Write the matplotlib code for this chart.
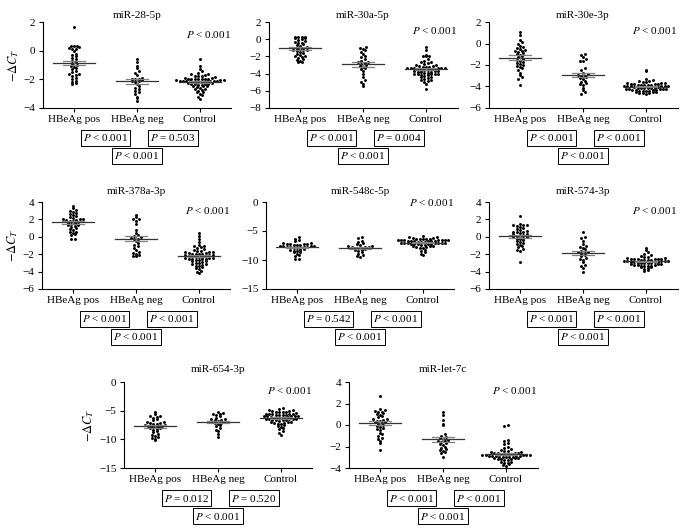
import matplotlib
matplotlib.use("Agg")
import matplotlib.pyplot as plt
import numpy as np

plt.rcParams['font.family'] = ['Liberation Serif', 'DejaVu Serif']
plt.rcParams['mathtext.fontset'] = 'stix'
plt.rcParams['font.size'] = 8

groups = ["HBeAg pos", "HBeAg neg", "Control"]
titles = ["miR-28-5p", "miR-30a-5p", "miR-30e-3p", "miR-378a-3p",
          "miR-548c-5p", "miR-574-3p", "miR-654-3p", "miR-let-7c"]

# -dCt values, per panel: HBeAg pos, HBeAg neg, Control
pos1 = [1.65, 0.35, 0.3, 0.3, 0.25, 0.2, 0.15, 0.1, 0.0, -0.2, -0.3, -0.4, -0.5, -0.6, -0.7, -0.8, -0.9,
        -1.0, -1.1, -1.15, -1.2, -1.3, -1.4, -1.5, -1.6, -1.65, -1.7, -1.8, -1.9, -2.0, -2.1, -2.2, -2.25, -2.3]
neg1 = [-0.6, -0.8, -1.05, -1.2, -1.4, -1.55, -1.7, -1.9, -1.95, -2.0, -2.0, -2.05, -2.1, -2.15, -2.2,
        -2.3, -2.5, -2.6, -2.7, -2.8, -2.9, -3.0, -3.2, -3.3, -3.5]
ctrl1 = [-0.55, -1.1, -1.3, -1.45, -1.55, -1.6, -1.65, -1.7, -1.75, -1.8, -1.8, -1.85, -1.9, -1.9, -1.95,
         -1.95, -2.0, -2.0, -2.0, -2.0, -2.0, -2.05, -2.05, -2.05, -2.1, -2.1, -2.1, -2.1, -2.1, -2.15, -2.15,
         -2.15, -2.2, -2.2, -2.2, -2.2, -2.25, -2.25, -2.3, -2.3, -2.3, -2.35, -2.4, -2.4, -2.45, -2.5, -2.5,
         -2.55, -2.6, -2.65, -2.7, -2.75, -2.8, -2.85, -2.9, -3.0, -3.1, -3.2, -3.4]

pos2 = [0.3, 0.25, 0.2, 0.2, 0.15, 0.1, 0.0, -0.1, -0.2, -0.3, -0.4, -0.5, -0.6, -0.7, -0.8, -0.9, -1.0,
        -1.0, -1.1, -1.1, -1.2, -1.2, -1.3, -1.4, -1.5, -1.6, -1.7, -1.8, -1.9, -2.0, -2.1, -2.2, -2.3,
        -2.4, -2.5, -2.6, -2.7]
neg2 = [-0.9, -1.0, -1.1, -1.3, -1.5, -1.7, -1.9, -2.1, -2.3, -2.5, -2.6, -2.7, -2.8, -2.9, -3.0, -3.1,
        -3.2, -3.3, -3.5, -3.7, -4.1, -4.4, -4.8, -5.0, -5.2, -5.5]
ctrl2 = [-0.9, -1.2, -1.8, -1.9, -1.9, -2.0, -2.3, -2.5, -2.6, -2.7, -2.8, -2.9, -3.0, -3.0, -3.1, -3.1,
         -3.2, -3.2, -3.2, -3.3, -3.3, -3.3, -3.4, -3.4, -3.4, -3.5, -3.5, -3.5, -3.6, -3.6, -3.6, -3.7,
         -3.7, -3.7, -3.8, -3.8, -3.8, -3.9, -3.9, -4.0, -4.0, -4.0, -4.1, -4.1, -4.2, -4.2, -4.3, -4.4,
         -4.4, -4.5, -4.6, -4.7, -4.8, -4.9, -5.0, -5.2, -5.8]

pos3 = [1.1, 0.8, 0.3, 0.1, 0.0, -0.2, -0.3, -0.4, -0.5, -0.6, -0.7, -0.7, -0.8, -0.9, -1.0, -1.1, -1.2,
        -1.3, -1.4, -1.5, -1.6, -1.7, -1.8, -1.9, -2.0, -2.1, -2.2, -2.3, -2.5, -2.7, -2.9, -3.1, -3.3, -3.9]
neg3 = [-1.0, -1.1, -1.3, -1.4, -1.6, -1.6, -2.3, -2.5, -2.7, -2.8, -2.9, -3.0, -3.0, -3.1, -3.2, -3.3,
        -3.5, -3.6, -3.7, -3.8, -3.9, -4.1, -4.3, -4.5, -4.7]
ctrl3 = [-2.5, -2.6, -3.3, -3.4, -3.5, -3.5, -3.6, -3.6, -3.7, -3.7, -3.7, -3.8, -3.8, -3.8, -3.8, -3.9,
         -3.9, -3.9, -3.9, -3.9, -4.0, -4.0, -4.0, -4.0, -4.0, -4.0, -4.05, -4.05, -4.1, -4.1, -4.1, -4.1,
         -4.1, -4.15, -4.2, -4.2, -4.2, -4.2, -4.25, -4.3, -4.3, -4.3, -4.35, -4.4, -4.4, -4.4, -4.45, -4.5,
         -4.5, -4.55, -4.6, -4.6, -4.65, -4.7]

pos4 = [3.5, 3.3, 3.1, 2.9, 2.7, 2.5, 2.4, 2.3, 2.2, 2.1, 2.0, 2.0, 1.9, 1.9, 1.8, 1.8, 1.7, 1.6, 1.5,
        1.4, 1.3, 1.2, 1.1, 1.0, 0.9, 0.8, 0.6, 0.5, 0.3, 0.2, 0.4, -0.2, -0.3, 2.6, 1.6, 3.0]
neg4 = [2.5, 2.3, 2.1, 2.0, 1.8, 1.5, 0.8, 0.4, 0.2, 0.1, 0.0, -0.1, -0.2, -0.3, -0.5, -0.7, -0.9, -1.1,
        -1.3, -1.5, -1.8, -1.9, -2.0, -2.1, -2.2, -2.2]
ctrl4 = [0.4, 0.1, -0.3, -0.6, -0.9, -1.0, -1.1, -1.2, -1.3, -1.4, -1.5, -1.6, -1.7, -1.8, -1.8, -1.9,
         -1.9, -2.0, -2.0, -2.0, -2.1, -2.1, -2.1, -2.2, -2.2, -2.2, -2.3, -2.3, -2.3, -2.4, -2.4, -2.5,
         -2.5, -2.6, -2.6, -2.7, -2.8, -2.8, -2.9, -3.0, -3.0, -3.1, -3.1, -3.2, -3.3, -3.4, -3.5, -3.6,
         -3.7, -3.9, -4.0, -4.2, -1.6, -2.0, -2.4, -2.7]

pos5 = [-6.1, -6.3, -6.6, -6.8, -7.0, -7.1, -7.2, -7.3, -7.3, -7.4, -7.4, -7.5, -7.5, -7.6, -7.6, -7.7,
        -7.7, -7.8, -7.8, -7.9, -8.0, -8.0, -8.1, -8.2, -8.3, -8.4, -8.5, -8.6, -8.7, -8.9, -9.1, -9.3,
        -9.8, -9.9, -7.4, -7.3]
neg5 = [-6.1, -6.2, -6.7, -6.9, -7.1, -7.3, -7.4, -7.5, -7.6, -7.7, -7.8, -7.8, -7.9, -8.0, -8.0, -8.1,
        -8.2, -8.3, -8.5, -8.7, -8.9, -9.1, -9.3, -9.5]
ctrl5 = [-5.8, -6.0, -6.1, -6.2, -6.2, -6.3, -6.3, -6.3, -6.4, -6.4, -6.5, -6.5, -6.5, -6.6, -6.6, -6.6,
         -6.7, -6.7, -6.7, -6.8, -6.8, -6.8, -6.9, -6.9, -6.9, -7.0, -7.0, -7.0, -7.1, -7.1, -7.1, -7.2,
         -7.2, -7.2, -7.3, -7.3, -7.4, -7.4, -7.5, -7.5, -7.6, -7.7, -7.8, -7.9, -8.0, -8.2, -8.4, -8.6,
         -8.9, -9.1, -6.6, -7.0]

pos6 = [2.4, 1.5, 1.4, 1.3, 1.3, 1.2, 1.1, 1.0, 0.9, 0.8, 0.7, 0.6, 0.6, 0.5, 0.4, 0.3, 0.3, 0.2, 0.1,
        0.1, 0.0, 0.0, -0.1, -0.2, -0.3, -0.4, -0.5, -0.6, -0.7, -0.8, -0.9, -1.0, -1.2, -1.4, -1.5, -1.6, -2.9]
neg6 = [0.5, 0.0, -0.1, -0.5, -0.8, -1.0, -1.2, -1.3, -1.4, -1.6, -1.7, -1.8, -1.9, -2.0, -2.1, -2.2,
        -2.4, -2.5, -2.7, -2.9, -3.2, -3.4, -3.6, -4.0]
ctrl6 = [-1.3, -1.5, -1.8, -2.0, -2.1, -2.2, -2.3, -2.3, -2.4, -2.4, -2.5, -2.5, -2.6, -2.6, -2.6, -2.7,
         -2.7, -2.7, -2.7, -2.8, -2.8, -2.8, -2.8, -2.9, -2.9, -2.9, -2.9, -3.0, -3.0, -3.0, -3.0, -3.1,
         -3.1, -3.1, -3.2, -3.2, -3.2, -3.3, -3.3, -3.4, -3.4, -3.5, -3.5, -3.6, -3.7, -3.8, -3.9, -2.8,
         -3.0, -2.6]

pos7 = [-5.3, -5.6, -5.9, -6.1, -6.3, -6.5, -6.7, -6.9, -7.0, -7.1, -7.2, -7.3, -7.4, -7.5, -7.6, -7.7,
        -7.8, -7.9, -8.0, -8.1, -8.2, -8.4, -8.6, -8.8, -9.0, -9.2, -9.4, -9.6, -9.8, -10.0, -10.2, -7.5,
        -7.8, -6.0]
neg7 = [-5.2, -5.4, -5.6, -5.8, -6.0, -6.2, -6.4, -6.5, -6.6, -6.7, -6.8, -6.9, -7.0, -7.1, -7.2, -7.3,
        -7.5, -7.7, -8.0, -8.3, -8.6, -9.1, -9.6, -5.5]
ctrl7 = [-4.6, -4.7, -4.8, -4.9, -5.0, -5.1, -5.2, -5.3, -5.3, -5.4, -5.5, -5.5, -5.6, -5.6, -5.7, -5.7,
         -5.8, -5.8, -5.9, -5.9, -6.0, -6.0, -6.1, -6.1, -6.2, -6.2, -6.3, -6.3, -6.4, -6.4, -6.5, -6.5,
         -6.6, -6.6, -6.7, -6.7, -6.8, -6.9, -7.0, -7.0, -7.1, -7.2, -7.3, -7.4, -7.5, -7.6, -7.8, -8.0,
         -8.2, -8.5, -8.9, -9.3, -5.2, -6.0, -6.4, -5.6]

pos8 = [2.7, 1.5, 1.4, 1.3, 1.2, 1.1, 1.0, 0.9, 0.8, 0.7, 0.6, 0.5, 0.4, 0.3, 0.2, 0.1, 0.0, -0.1, -0.2,
        -0.3, -0.4, -0.5, -0.7, -0.8, -1.0, -1.2, -1.3, -1.5, -1.7, -2.3, 0.4, 0.6, 1.2, 0.3]
neg8 = [1.2, 0.9, 0.5, 0.1, 0.0, -0.8, -1.0, -1.1, -1.2, -1.3, -1.4, -1.5, -1.6, -1.7, -1.8, -1.9, -2.0,
        -2.1, -2.2, -2.3, -2.4, -2.5, -2.6, -3.0, -1.5]
ctrl8 = [0.0, -0.1, -1.4, -1.5, -1.7, -1.8, -2.0, -2.1, -2.2, -2.3, -2.4, -2.4, -2.5, -2.5, -2.6, -2.6,
         -2.6, -2.7, -2.7, -2.7, -2.7, -2.8, -2.8, -2.8, -2.8, -2.9, -2.9, -2.9, -2.9, -3.0, -3.0, -3.0,
         -3.0, -3.1, -3.1, -3.1, -3.2, -3.2, -3.2, -3.3, -3.3, -3.4, -3.4, -3.5, -3.5, -3.6, -3.7, -3.8,
         -2.8, -3.0, -2.6, -2.9]

data = [(pos1, neg1, ctrl1), (pos2, neg2, ctrl2), (pos3, neg3, ctrl3), (pos4, neg4, ctrl4),
        (pos5, neg5, ctrl5), (pos6, neg6, ctrl6), (pos7, neg7, ctrl7), (pos8, neg8, ctrl8)]

yticks = [[-4, -2, 0, 2], [-8, -6, -4, -2, 0, 2], [-6, -4, -2, 0, 2], [-6, -4, -2, 0, 2, 4],
          [-15, -10, -5, 0], [-6, -4, -2, 0, 2, 4], [-15, -10, -5, 0], [-4, -2, 0, 2, 4]]

p_top = "$P$ < 0.001"
p_boxes = [("$P$ < 0.001", "$P$ = 0.503"), ("$P$ < 0.001", "$P$ = 0.004"),
           ("$P$ < 0.001", "$P$ < 0.001"), ("$P$ < 0.001", "$P$ < 0.001"),
           ("$P$ = 0.542", "$P$ < 0.001"), ("$P$ < 0.001", "$P$ < 0.001"),
           ("$P$ = 0.012", "$P$ = 0.520"), ("$P$ < 0.001", "$P$ < 0.001")]
p_all = "$P$ < 0.001"

W, H = 686, 532
# axes rectangles in pixels: left, top, bottom
rects = [(42.5, 22, 108), (268.5, 22, 108), (488.5, 22, 108),
         (41.5, 202, 289), (265.5, 202, 289), (488.5, 202, 289),
         (123.5, 382, 468), (348.5, 382, 468)]
title_off = [6, 6, 6, 11, 11, 11, 12, 12]
ptop_off = [13, 9, 8, 9, 1, 8, 8, 8]
AXW = 189


def swarm(vals, lo, hi, h_px, w_px, bh=3.0, sp=3.4):
    # prism-style rows: points in the same y-bin sit side by side
    ys = (np.asarray(vals, float) - lo) / (hi - lo) * h_px
    bins = np.round(ys / bh).astype(int)
    xs = np.zeros(len(ys))
    for bn in np.unique(bins):
        idx = np.where(bins == bn)[0]
        idx = idx[np.argsort(ys[idx])]
        k = len(idx)
        offs = (np.arange(k) - (k - 1) / 2) * sp
        order = np.argsort(np.abs(offs), kind='stable')
        for j, o in zip(idx, offs[order]):
            xs[j] = o
    return xs / w_px


fig = plt.figure(figsize=(W / 100, H / 100), dpi=100)

for n in range(8):
    l, t, b = rects[n]
    ax = fig.add_axes([l / W, 1 - b / H, AXW / W, (b - t) / H])
    lo, hi = yticks[n][0], yticks[n][-1]
    for g, vals in enumerate(data[n]):
        xs = g + swarm(vals, lo, hi, b - t, AXW / 3)
        ax.scatter(xs, vals, s=4.5, color='black', linewidths=0, zorder=3)
        m = np.mean(vals)
        se = np.std(vals, ddof=1) / np.sqrt(len(vals))
        ax.plot([g - 0.34, g + 0.34], [m, m], color='0.2', lw=0.9, zorder=4)
        ax.plot([g - 0.17, g + 0.17], [m + se, m + se], color='0.5', lw=0.9, zorder=4)
        ax.plot([g - 0.17, g + 0.17], [m - se, m - se], color='0.5', lw=0.9, zorder=4)
        ax.plot([g, g], [m - se, m + se], color='0.5', lw=0.9, zorder=4)
    ax.set_xlim(-0.5, 2.5)
    ax.set_ylim(lo, hi)
    ax.set_yticks(yticks[n])
    ax.set_xticks([0, 1, 2])
    ax.set_xticklabels(groups)
    for s in ['top', 'right']:
        ax.spines[s].set_visible(False)
    for s in ['left', 'bottom']:
        ax.spines[s].set_linewidth(0.8)
    ax.tick_params(length=3, width=0.8, pad=2, labelsize=8)
    if n in (0, 3, 6):
        ax.set_ylabel("$-\\Delta C_T$", fontsize=9, labelpad=2)
    ax.annotate(titles[n], xy=(0.5, 1), xycoords='axes fraction',
                xytext=(0, title_off[n] * 0.72), textcoords='offset points',
                ha='center', va='center', fontsize=8)
    ax.annotate(p_top, xy=(1, 1), xycoords='axes fraction',
                xytext=(0, -ptop_off[n] * 0.72), textcoords='offset points',
                ha='right', va='center', fontsize=8)
    box = dict(boxstyle='square,pad=0.2', fc='white', ec='black', lw=0.7)
    tr = ax.get_xaxis_transform()
    for xp, txt in zip([0.5, 1.57], p_boxes[n]):
        ax.annotate(txt, xy=(xp, 0), xycoords=tr, xytext=(0, -30 * 0.72),
                    textcoords='offset points', ha='center', va='center',
                    fontsize=8, bbox=box, annotation_clip=False)
    ax.annotate(p_all, xy=(1.0, 0), xycoords=tr, xytext=(0, -48 * 0.72),
                textcoords='offset points', ha='center', va='center',
                fontsize=8, bbox=box, annotation_clip=False)

fig.savefig("out.png", dpi=100)
